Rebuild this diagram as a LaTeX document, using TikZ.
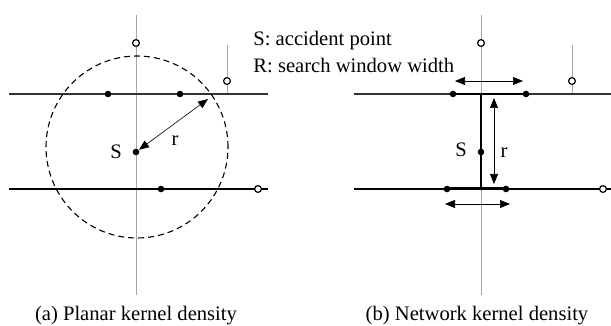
\documentclass[tikz,border=0pt]{standalone}
\usepackage{fontspec}
\setmainfont{Liberation Serif}
\usetikzlibrary{arrows.meta,positioning}

\begin{document}
\begin{tikzpicture}[
  x=0.5pt, y=-0.5pt,
  road/.style={line width=0.7pt, black!80},
  lowroad/.style={line width=0.7pt, black},
  axis/.style={line width=0.4pt, black!35},
  window/.style={line width=1.3pt, black},
  dot/.style={circle, fill=black, inner sep=0pt, minimum size=3.3pt},
  hollow/.style={circle, draw=black, fill=white, line width=0.6pt,
    inner sep=0pt, minimum size=3.4pt},
  span/.style={{Triangle[length=5pt,width=4pt]}-{Triangle[length=5pt,width=4pt]},
    line width=0.3pt},
  label/.style={font=\fontsize{10.3}{12}\selectfont, inner sep=0pt}
]
\useasboundingbox (0,0) rectangle (611,326);

% (a) planar
\draw[axis] (136,15) -- (136,295);
\draw[axis] (227,45) -- (227,94);
\draw[road] (9,94) -- (268,94);
\draw[lowroad] (9,189) -- (268,189);
\draw[dashed, line width=0.55pt, dash pattern=on 3pt off 2pt] (137,147) circle[radius=45.5pt];

\node[hollow] (aTop) at (136,43) {};
\node[hollow] (aStub) at (227,81) {};
\node[hollow] (aEnd) at (258,189) {};
\node[dot] (a1) at (108,94) {};
\node[dot] (a2) at (180,94) {};
\node[dot] (a3) at (161,189) {};
\node[dot] (aS) at (136,152) {};
\coordinate (aRim) at (208,99);

\draw[span] (aS) -- (aRim);
\node[label, left=5pt of aS] (aSlab) {S};
\node[label] (aR) at (175,141) {r};

% legend
\node[label, anchor=base west] (legS) at (253,46) {S: accident point};
\node[label, anchor=base west] (legR) at (253,73) {R: search window width};

% (b) network
\draw[axis] (481,15) -- (481,295);
\draw[axis] (572,45) -- (572,94);
\draw[road] (354,94) -- (611,94);
\draw[lowroad] (354,189) -- (611,189);

\node[hollow] (bTop) at (481,43) {};
\node[hollow] (bStub) at (572,81) {};
\node[hollow] (bEnd) at (603,189) {};
\coordinate (bUp) at (481,94);
\coordinate (bDown) at (481,189);
\coordinate (b1c) at (453,94);
\coordinate (b2c) at (526,94);
\coordinate (b3c) at (447,189);
\coordinate (b4c) at (506,189);

\draw[line width=1pt] (b1c) -- (b2c);
\draw[window] (bUp) -- (bDown);
\draw[line width=1.5pt] (b3c) -- (b4c);

\node[dot] (b1) at (b1c) {};
\node[dot] (b2) at (b2c) {};
\node[dot] (b3) at (b3c) {};
\node[dot] (b4) at (b4c) {};
\node[dot] (bS) at (481,152) {};

\coordinate (t1) at (455,81);
\coordinate (t2) at (523,81);
\coordinate (v1) at (494,98);
\coordinate (v2) at (494,184);
\coordinate (u1) at (445,204);
\coordinate (u2) at (510,204);
\draw[span] (t1) -- (t2);
\draw[span] (v1) -- (v2);
\draw[span] (u1) -- (u2);

\node[label, left=5pt of bS, yshift=1pt] (bSlab) {S};
\node[label] (bR) at (504,153) {r};

% captions
\node[label, anchor=base] (capA) at (136,321) {(a) Planar kernel density};
\node[label, anchor=base] (capB) at (477,321) {(b) Network kernel density};
\end{tikzpicture}
\end{document}
